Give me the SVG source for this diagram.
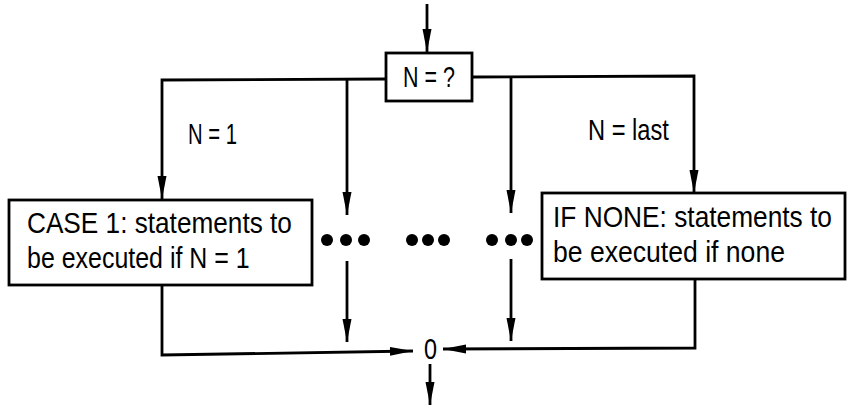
<svg xmlns="http://www.w3.org/2000/svg" width="852" height="408" viewBox="0 0 852 408">
<style>
.ln{fill:none;stroke:#000;stroke-width:2.8;stroke-linejoin:miter}
.bx{fill:#fff;stroke:#000;stroke-width:2.8}
.t{font-family:"Liberation Sans Narrow","Liberation Sans",Arial,sans-serif;font-size:29px;fill:#000}
.dot{fill:#000}
</style>
<defs>
<marker id="ah" markerUnits="userSpaceOnUse" markerWidth="24" markerHeight="11" refX="23" refY="5.5" orient="auto">
<path d="M0,1 L23,5.5 L0,10 z" fill="#000"/>
</marker>
</defs>
<g id="connectors">
<path class="ln" d="M427,4 L427,52" marker-end="url(#ah)"/>
<path class="ln" d="M386,79 L162,80 L162,199" marker-end="url(#ah)"/>
<path class="ln" d="M472,77 L694,76 L694,193" marker-end="url(#ah)"/>
<path class="ln" d="M347,80 L347,215" marker-end="url(#ah)"/>
<path class="ln" d="M511,77 L511,213" marker-end="url(#ah)"/>
<path class="ln" d="M347,261 L347,342" marker-end="url(#ah)"/>
<path class="ln" d="M511,259 L511,341" marker-end="url(#ah)"/>
<path class="ln" d="M162,285 L162,355 L413,351" marker-end="url(#ah)"/>
<path class="ln" d="M695,279 L695,348 L443,349" marker-end="url(#ah)"/>
<path class="ln" d="M430,364 L430,405" marker-end="url(#ah)"/>
</g>
<g id="decision">
<rect class="bx" x="386" y="53" width="86" height="48"/>
<text class="t" transform="translate(403,87) scale(0.88,1)" font-size="31" textLength="59" lengthAdjust="spacingAndGlyphs">N = ?</text>
</g>
<g id="label-n1">
<text class="t" transform="translate(188,144) scale(0.88,1)" textLength="55.7" lengthAdjust="spacingAndGlyphs">N = 1</text>
</g>
<g id="label-nlast">
<text class="t" transform="translate(588,140) scale(0.88,1)" textLength="92" lengthAdjust="spacingAndGlyphs">N = last</text>
</g>
<g id="case1">
<rect class="bx" x="9" y="200" width="303" height="85"/>
<text class="t" transform="translate(27,233) scale(0.88,1)" textLength="301" lengthAdjust="spacingAndGlyphs">CASE 1:  statements to</text>
<text class="t" transform="translate(27,268) scale(0.88,1)" textLength="253" lengthAdjust="spacingAndGlyphs">be executed if N = 1</text>
</g>
<g id="ifnone">
<rect class="bx" x="542" y="193" width="303" height="86"/>
<text class="t" transform="translate(553,227) scale(0.88,1)" textLength="317" lengthAdjust="spacingAndGlyphs">IF NONE:  statements to</text>
<text class="t" transform="translate(553,262) scale(0.88,1)" textLength="263.6" lengthAdjust="spacingAndGlyphs">be executed if none</text>
</g>
<g id="dots">
<circle class="dot" cx="327" cy="240" r="6"/>
<circle class="dot" cx="346" cy="240" r="6"/>
<circle class="dot" cx="364" cy="240" r="6"/>
<circle class="dot" cx="412" cy="240" r="6"/>
<circle class="dot" cx="428" cy="240" r="6"/>
<circle class="dot" cx="444" cy="240" r="6"/>
<circle class="dot" cx="492" cy="240" r="6"/>
<circle class="dot" cx="511" cy="240" r="6"/>
<circle class="dot" cx="527" cy="240" r="6"/>
</g>
<g id="junction">
<text class="t" transform="translate(424,359) scale(0.88,1)" textLength="14.8" lengthAdjust="spacingAndGlyphs">0</text>
</g>
</svg>
